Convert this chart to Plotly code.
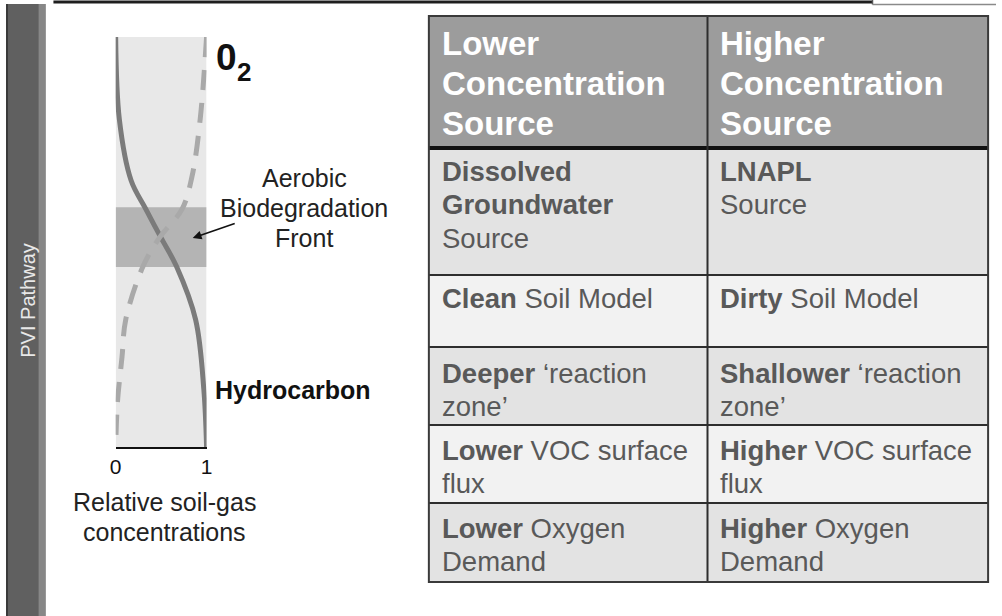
import plotly.graph_objects as go

# ---------------- data ----------------
hc_depth = [0, 0.2, 0.35, 0.415, 0.49, 0.56, 0.69, 0.86, 1.0]
hc_conc = [0, 0.04, 0.17, 0.32, 0.5, 0.67, 0.88, 0.97, 1.0]
o2_depth = [0, 0.2, 0.34, 0.42, 0.49, 0.56, 0.69, 0.78, 0.89, 1.0]
o2_conc = [1.0, 0.93, 0.84, 0.73, 0.48, 0.30, 0.11, 0.07, 0.02, 0]
front_band = [0.415, 0.561]
x_ticks = [0, 1]
x_ticktext = ["0", "1"]

header_left = ["Lower", "Concentration", "Source"]
header_right = ["Higher", "Concentration", "Source"]
rows_left = [["<b>Dissolved</b>", "<b>Groundwater</b>", "Source"],
             ["<b>Clean</b> Soil Model"],
             ["<b>Deeper</b> \u2018reaction", "zone\u2019"],
             ["<b>Lower</b> VOC surface", "flux"],
             ["<b>Lower</b> Oxygen", "Demand"]]
rows_right = [["<b>LNAPL</b>", "Source"],
              ["<b>Dirty</b> Soil Model"],
              ["<b>Shallower</b> \u2018reaction", "zone\u2019"],
              ["<b>Higher</b> VOC surface", "flux"],
              ["<b>Higher</b> Oxygen", "Demand"]]
side_label = "PVI Pathway"
xlabel_lines = ["Relative soil-gas", "concentrations"]
front_lines = ["Aerobic", "Biodegradation", "Front"]

# ---------------- layout constants (pixels) ----------------
W, H = 1002, 616
FONT = "Liberation Sans, Arial, sans-serif"
chart_x0, chart_x1 = 111, 203
chart_y0, chart_y1 = 37, 447

fig = go.Figure()

# invisible trace to activate the pixel-space axes
fig.add_trace(go.Scatter(x=[0, W], y=[0, H], mode="markers",
                         marker=dict(opacity=0), hoverinfo="skip",
                         showlegend=False, xaxis="x", yaxis="y"))

fig.add_trace(go.Scatter(x=hc_conc, y=hc_depth, mode="lines",
                         line=dict(color="#7b7b7b", width=5, shape="spline", smoothing=1.0),
                         xaxis="x2", yaxis="y2", showlegend=False, hoverinfo="skip"))
fig.add_trace(go.Scatter(x=o2_conc, y=o2_depth, mode="lines",
                         line=dict(color="#a9a9a9", width=5, shape="spline", smoothing=1.0,
                                   dash="20px,13px"),
                         xaxis="x2", yaxis="y2", showlegend=False, hoverinfo="skip"))

shapes = []
# left strip
shapes.append(dict(type="rect", xref="x", yref="y", x0=0, x1=40, y0=4, y1=H,
                   fillcolor="#606060", line=dict(width=0), layer="below"))
shapes.append(dict(type="rect", xref="x", yref="y", x0=33, x1=40, y0=4, y1=H,
                   fillcolor="#878787", line=dict(width=0), layer="below"))
shapes.append(dict(type="rect", xref="x", yref="y", x0=0, x1=2, y0=4, y1=H,
                   fillcolor="#3a3a3a", line=dict(width=0), layer="below"))
# top rule
shapes.append(dict(type="line", xref="x", yref="y", x0=48, x1=877, y0=2, y1=2,
                   line=dict(color="#1e1e1e", width=3), layer="below"))
shapes.append(dict(type="line", xref="x", yref="y", x0=877, x1=877, y0=0, y1=4.5,
                   line=dict(color="#555555", width=1.5), layer="below"))
shapes.append(dict(type="line", xref="x", yref="y", x0=877, x1=W, y0=4.5, y1=4.5,
                   line=dict(color="#8a8a8a", width=1.5), layer="below"))

# chart background & front band (in chart coordinates)
shapes.append(dict(type="rect", xref="x2", yref="y2", x0=0, x1=1, y0=0, y1=1,
                   fillcolor="#e8e8e8", line=dict(width=0), layer="below"))
shapes.append(dict(type="rect", xref="x2", yref="y2", x0=0, x1=1,
                   y0=front_band[0], y1=front_band[1],
                   fillcolor="#b4b4b4", line=dict(width=0), layer="below"))

# table
tx0, tx1, tdiv = 428, 994, 710
ty_top, ty_head = 16, 148
row_bounds = [148, 275, 347, 425, 503, 582]
row_fills = ["#e3e3e3", "#f2f2f2", "#e3e3e3", "#f2f2f2", "#e3e3e3"]
shapes.append(dict(type="rect", xref="x", yref="y", x0=tx0, x1=tx1, y0=ty_top, y1=ty_head,
                   fillcolor="#9c9c9c", line=dict(width=0), layer="below"))
for i, f in enumerate(row_fills):
    shapes.append(dict(type="rect", xref="x", yref="y", x0=tx0, x1=tx1,
                       y0=row_bounds[i], y1=row_bounds[i + 1],
                       fillcolor=f, line=dict(width=0), layer="below"))
for yb in row_bounds[1:-1]:
    shapes.append(dict(type="line", xref="x", yref="y", x0=tx0, x1=tx1, y0=yb, y1=yb,
                       line=dict(color="#2e2e2e", width=2), layer="below"))
shapes.append(dict(type="line", xref="x", yref="y", x0=tx0, x1=tx1, y0=ty_head, y1=ty_head,
                   line=dict(color="#111111", width=4), layer="below"))
shapes.append(dict(type="line", xref="x", yref="y", x0=tdiv, x1=tdiv, y0=ty_top, y1=row_bounds[-1],
                   line=dict(color="#2e2e2e", width=2), layer="below"))
shapes.append(dict(type="rect", xref="x", yref="y", x0=tx0, x1=tx1, y0=ty_top, y1=row_bounds[-1],
                   fillcolor="rgba(0,0,0,0)", line=dict(color="#3a3a3a", width=2), layer="below"))

annotations = []


def txt(x, y, text, size, color="#222222", xanchor="left", bold=False, **kw):
    if bold:
        text = "<b>" + text + "</b>"
    annotations.append(dict(x=x, y=y, xref="x", yref="y", text=text, showarrow=False,
                            xanchor=xanchor, yanchor="middle",
                            font=dict(family=FONT, size=size, color=color), **kw))


# side label
txt(22, 300, side_label, 20, color="#e8e8e8", xanchor="center", textangle=-90)

# O2 label
txt(211, 57, "0", 37, color="#111111", bold=True)
txt(232, 72, "2", 26, color="#111111", bold=True)

# Aerobic Biodegradation Front
for i, s in enumerate(front_lines):
    txt(302, 178 + 30 * i, s, 25, xanchor="center")
annotations.append(dict(x=189, y=238, ax=233, ay=223, xref="x", yref="y",
                        axref="x", ayref="y", text="", showarrow=True,
                        arrowhead=2, arrowsize=1.1, arrowwidth=1.6, arrowcolor="#111111"))

# Hydrocarbon
txt(209, 390, "Hydrocarbon", 25, color="#111111", bold=True)

# x label
for i, s in enumerate(xlabel_lines):
    txt(160, 502 + 30 * i, s, 25, xanchor="center")

# table header
for i, s in enumerate(header_left):
    txt(439, 43 + 40 * i, s, 33, color="#ffffff", bold=True)
for i, s in enumerate(header_right):
    txt(721, 43 + 40 * i, s, 33, color="#ffffff", bold=True)

# table body
row_first_line = [171, 298, 373, 450, 528]
for r in range(5):
    for i, s in enumerate(rows_left[r]):
        txt(439, row_first_line[r] + 33.5 * i, s, 27.5, color="#595959")
    for i, s in enumerate(rows_right[r]):
        txt(721, row_first_line[r] + 33.5 * i, s, 27.5, color="#595959")

fig.update_layout(
    width=W, height=H,
    margin=dict(l=0, r=0, t=0, b=0),
    paper_bgcolor="#ffffff", plot_bgcolor="rgba(0,0,0,0)",
    showlegend=False,
    shapes=shapes, annotations=annotations,
    xaxis=dict(range=[0, W], domain=[0, 1], visible=False, fixedrange=True),
    yaxis=dict(range=[H, 0], domain=[0, 1], visible=False, fixedrange=True),
    xaxis2=dict(range=[0, 1], domain=[chart_x0 / W, chart_x1 / W], anchor="y2",
                showgrid=False, zeroline=False, showline=True, linecolor="#111111",
                linewidth=2, ticks="", tickvals=x_ticks, ticktext=x_ticktext,
                tickfont=dict(family=FONT, size=21, color="#111111"),
                ticklabelstandoff=0, fixedrange=True),
    yaxis2=dict(range=[1, 0], domain=[1 - chart_y1 / H, 1 - chart_y0 / H], anchor="x2",
                visible=False, showgrid=False, zeroline=False, fixedrange=True),
)

fig.write_html("out.html", config={"displayModeBar": False},
               post_script="document.body.style.margin='0';document.body.style.overflow='hidden';")
